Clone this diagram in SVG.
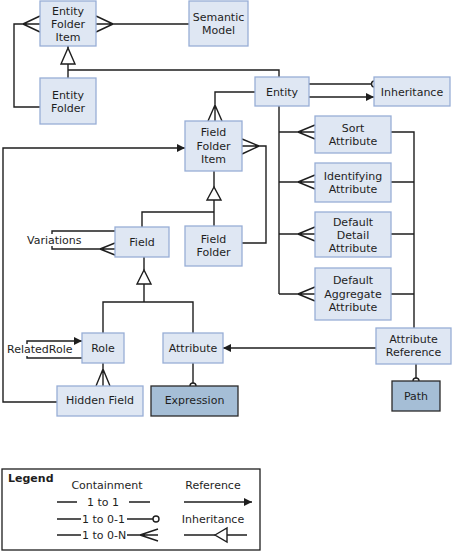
<svg xmlns="http://www.w3.org/2000/svg" width="452" height="552" viewBox="0 0 452 552">
<defs>
<style>
.box{fill:#dfe7f3;stroke:#98aed6;stroke-width:1.3}
.dark{fill:#a5bed6;stroke:#2a2a2a;stroke-width:1.3}
text{font-family:"DejaVu Sans",Verdana,sans-serif;font-size:11px;fill:#1e1e1e}
.c{text-anchor:middle}
.ln{fill:none;stroke:#1e1e1e;stroke-width:1.4}
.inh{fill:#fff;stroke:#1e1e1e;stroke-width:1.4}
.o{fill:#fff;stroke:#1e1e1e;stroke-width:1.4}
</style>
<marker id="arr" viewBox="0 0 10 10" refX="10" refY="5" markerWidth="8" markerHeight="8" markerUnits="userSpaceOnUse" orient="auto">
<path d="M0,0 L10,5 L0,10 Z" fill="#1e1e1e"/>
</marker>
</defs>
<rect width="452" height="552" fill="#fff"/>

<g id="connectors">
<!-- Entity Folder Item left crow's foot loop to Entity Folder -->
<path class="ln" d="M40,107 H14 V24 H40 M23,24 L40,16 M23,24 L40,32"/>
<!-- Entity Folder Item to Semantic Model -->
<path class="ln" d="M96,24 H189 M113,24 L96,16 M113,24 L96,32"/>
<!-- inheritance Entity Folder / Entity -> Entity Folder Item -->
<path class="ln" d="M68,46 V48 M68,64 V78 M68,70 H279 V77"/>
<polygon class="inh" points="68,48 61,64 75,64"/>
<!-- Entity to Inheritance -->
<path class="ln" d="M309,84 H371.5"/>
<circle class="o" cx="374.5" cy="84" r="3"/>
<path class="ln" d="M309,97 H374" marker-end="url(#arr)"/>
<!-- Entity to Field Folder Item -->
<path class="ln" d="M255,92 H215 V121 M215,105 L208,121 M215,105 L222,121"/>
<!-- Entity to attributes -->
<path class="ln" d="M279,106 V294 M279,132 H315 M298,132 L315,125 M298,132 L315,139 M279,182 H315 M298,182 L315,175 M298,182 L315,189 M279,234 H315 M298,234 L315,227 M298,234 L315,241 M279,294 H315 M298,294 L315,287 M298,294 L315,301"/>
<!-- attributes to Attribute Reference -->
<path class="ln" d="M391,132 H414 V328 M391,182 H414 M391,234 H414 M391,294 H414"/>
<!-- Attribute Reference to Path -->
<path class="ln" d="M416,364 V378"/>
<circle class="o" cx="416" cy="381" r="3"/>
<!-- Attribute Reference to Attribute -->
<path class="ln" d="M376,348 H223" marker-end="url(#arr)"/>
<!-- Field Folder Item to Field Folder -->
<path class="ln" d="M242,146 H266 V243 H242 M259,146 L242,139 M259,146 L242,154"/>
<!-- inheritance Field / Field Folder -> Field Folder Item -->
<path class="ln" d="M214,171 V187 M214,200 V226 M214,212 H142 V227"/>
<polygon class="inh" points="214,187 207,200 221,200"/>
<!-- Variations -->
<path class="ln" d="M115,231 H52 V249 H115 M100,249 L115,243 M100,249 L115,255"/>
<!-- inheritance Role / Attribute -> Field -->
<path class="ln" d="M144,257 V270 M144,284 V302 M103,333 V302 H193 V333"/>
<polygon class="inh" points="144,270 137,284 151,284"/>
<!-- RelatedRole -->
<path class="ln" d="M82,358 H27 V341 H82" marker-end="url(#arr)"/>
<!-- Role to Hidden Field -->
<path class="ln" d="M103,363 V386 M103,369 L96,386 M103,369 L110,386"/>
<!-- Attribute to Expression -->
<path class="ln" d="M193,363 V383"/>
<circle class="o" cx="193" cy="386" r="3"/>
<!-- Hidden Field to Field Folder Item -->
<path class="ln" d="M57,402 H3 V148 H185" marker-end="url(#arr)"/>
</g>

<g id="label-variations">
<rect x="26" y="234" width="58" height="12" fill="#fff"/>
<text x="27" y="244">Variations</text>
</g>
<g id="label-relatedrole">
<rect x="6" y="344" width="68" height="12" fill="#fff"/>
<text x="7" y="353">RelatedRole</text>
</g>

<g id="entity-folder-item">
<rect class="box" x="40" y="1" width="56" height="45"/>
<text class="c" x="68" y="15">Entity</text>
<text class="c" x="68" y="28">Folder</text>
<text class="c" x="68" y="41">Item</text>
</g>
<g id="semantic-model">
<rect class="box" x="189" y="1" width="59" height="45"/>
<text class="c" x="218.5" y="21">Semantic</text>
<text class="c" x="218.5" y="34">Model</text>
</g>
<g id="entity-folder">
<rect class="box" x="40" y="78" width="56" height="46"/>
<text class="c" x="68" y="99">Entity</text>
<text class="c" x="68" y="112">Folder</text>
</g>
<g id="entity">
<rect class="box" x="255" y="77" width="54" height="29"/>
<text class="c" x="282" y="95.5">Entity</text>
</g>
<g id="inheritance">
<rect class="box" x="374" y="77" width="76" height="29"/>
<text class="c" x="412" y="95.5">Inheritance</text>
</g>
<g id="field-folder-item">
<rect class="box" x="185" y="121" width="57" height="50"/>
<text class="c" x="213.5" y="136">Field</text>
<text class="c" x="213.5" y="150">Folder</text>
<text class="c" x="213.5" y="163">Item</text>
</g>
<g id="sort-attribute">
<rect class="box" x="315" y="116" width="76" height="37"/>
<text class="c" x="353" y="132">Sort</text>
<text class="c" x="353" y="145">Attribute</text>
</g>
<g id="identifying-attribute">
<rect class="box" x="315" y="163" width="76" height="39"/>
<text class="c" x="353" y="180">Identifying</text>
<text class="c" x="353" y="193">Attribute</text>
</g>
<g id="default-detail-attribute">
<rect class="box" x="315" y="212" width="76" height="45"/>
<text class="c" x="353" y="226">Default</text>
<text class="c" x="353" y="239">Detail</text>
<text class="c" x="353" y="252">Attribute</text>
</g>
<g id="default-aggregate-attribute">
<rect class="box" x="315" y="268" width="76" height="52"/>
<text class="c" x="353" y="284">Default</text>
<text class="c" x="353" y="298">Aggregate</text>
<text class="c" x="353" y="311">Attribute</text>
</g>
<g id="field">
<rect class="box" x="115" y="227" width="54" height="30"/>
<text class="c" x="142" y="246">Field</text>
</g>
<g id="field-folder">
<rect class="box" x="185" y="226" width="57" height="40"/>
<text class="c" x="213.5" y="243">Field</text>
<text class="c" x="213.5" y="256">Folder</text>
</g>
<g id="role">
<rect class="box" x="82" y="333" width="42" height="30"/>
<text class="c" x="103" y="352">Role</text>
</g>
<g id="attribute">
<rect class="box" x="163" y="333" width="60" height="30"/>
<text class="c" x="193" y="352">Attribute</text>
</g>
<g id="attribute-reference">
<rect class="box" x="376" y="328" width="75" height="36"/>
<text class="c" x="413.5" y="343">Attribute</text>
<text class="c" x="413.5" y="356">Reference</text>
</g>
<g id="hidden-field">
<rect class="box" x="57" y="386" width="86" height="30"/>
<text class="c" x="100" y="404">Hidden Field</text>
</g>
<g id="expression">
<rect class="dark" x="151" y="386" width="87" height="30"/>
<text class="c" x="194.5" y="404">Expression</text>
</g>
<g id="path">
<rect class="dark" x="392" y="381" width="48" height="30"/>
<text class="c" x="416" y="400">Path</text>
</g>

<g id="legend">
<rect x="2" y="469" width="258" height="81" fill="#fff" stroke="#1e1e1e" stroke-width="1.3"/>
<text x="8" y="482" font-weight="bold">Legend</text>
<text class="c" x="107" y="489">Containment</text>
<text class="c" x="213" y="489">Reference</text>
<path class="ln" d="M57,502 H77 M129,502 H150"/>
<text class="c" x="103" y="506">1 to 1</text>
<path class="ln" d="M184,502 H252" marker-end="url(#arr)"/>
<path class="ln" d="M57,519 H81 M127,519 H153"/>
<circle class="o" cx="156" cy="519" r="3"/>
<text x="82" y="523">1 to 0-1</text>
<text class="c" x="213" y="523">Inheritance</text>
<path class="ln" d="M57,535 H81 M127,535 H158 M140,535 L158,529 M140,535 L158,541"/>
<text x="82" y="539">1 to 0-N</text>
<path class="ln" d="M184,535 H215 M227,535 H247"/>
<polygon class="inh" points="215,535 227,528 227,542"/>
</g>
</svg>
